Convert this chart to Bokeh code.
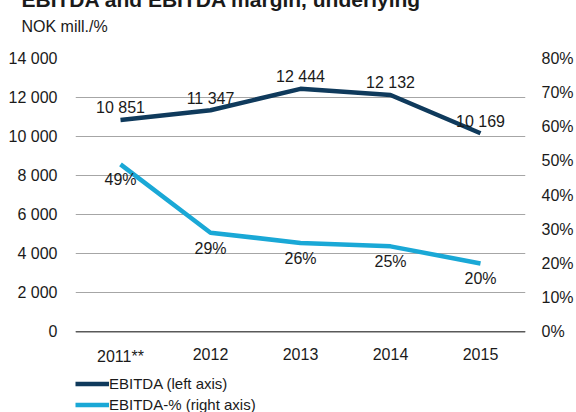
from bokeh.plotting import figure
from bokeh.models import (Range1d, FactorRange, LinearAxis, FixedTicker, Title,
                          Legend, LegendItem, Span)
from bokeh.embed import file_html
from bokeh.resources import INLINE
from bokeh.core.properties import value

# ---- data ----
years = ["2011**", "2012", "2013", "2014", "2015"]
ebitda = [10851, 11347, 12444, 12132, 10169]
margin_pct = [49, 29, 26, 25, 20]
left_ticks = [0, 2000, 4000, 6000, 8000, 10000, 12000, 14000]
left_labels = ["0", "2 000", "4 000", "6 000", "8 000", "10 000", "12 000", "14 000"]
right_ticks = [0, 10, 20, 30, 40, 50, 60, 70, 80]
right_labels = ["0%", "10%", "20%", "30%", "40%", "50%", "60%", "70%", "80%"]
title_text = "EBITDA and EBITDA margin, underlying"
subtitle_text = "NOK mill./%"
series_names = ["EBITDA (left axis)", "EBITDA-% (right axis)"]

ebitda_labels = [f"{v:,}".replace(",", " ") for v in ebitda]
pct_labels = [f"{v}%" for v in margin_pct]

FONT = "Liberation Sans"
TXT = "#1a1a1a"
NAVY = "#0f3a5c"
CYAN = "#1aa8d6"

# ---- layout geometry (pixels) ----
SHIFT = 15            # canvas starts above the window so the title is cut like the source
H = 412 + SHIFT
TOP = 57 + SHIFT      # frame top (value 14 000 / 80 %)
ZERO = 331 + SHIFT    # y position of the zero line
below = H - ZERO      # room under the zero line (year labels + legend)
span = ZERO - TOP
y_lo = -max(left_ticks) * below / span
p_lo = -max(right_ticks) * below / span

p = figure(width=576, height=H,
           x_range=FactorRange(*years, range_padding=0),
           y_range=Range1d(y_lo, max(left_ticks)),
           x_axis_location=None,
           output_backend="svg", toolbar_location=None,
           min_border_left=75, min_border_right=46,
           min_border_top=TOP, min_border_bottom=0,
           margin=(-SHIFT, 0, 0, 0))
p.extra_y_ranges = {"pct": Range1d(p_lo, max(right_ticks))}
p.outline_line_color = None

# titles: stacked outward from the frame (spacer, unit line, main title)
p.add_layout(Title(text=" ", align="left", offset=-54, standoff=3,
                   text_font=FONT, text_font_size="12px"), "above")
p.add_layout(Title(text=subtitle_text, align="left", offset=-54, standoff=10,
                   text_font=FONT, text_font_size="16px",
                   text_font_style="normal", text_color=TXT), "above")
p.add_layout(Title(text=title_text, align="left", offset=-54, standoff=0,
                   text_font=FONT, text_font_size="21px",
                   text_font_style="bold", text_color=TXT), "above")

ya = p.yaxis[0]
ya.ticker = FixedTicker(ticks=left_ticks)
ya.major_label_overrides = dict(zip(left_ticks, left_labels))
ya.axis_line_color = None
ya.major_tick_line_color = None
ya.minor_tick_line_color = None
ya.major_label_standoff = 12
ya.major_label_text_font = FONT
ya.major_label_text_font_size = "16px"
ya.major_label_text_color = TXT

ra = LinearAxis(y_range_name="pct", ticker=FixedTicker(ticks=right_ticks),
                major_label_overrides=dict(zip(right_ticks, right_labels)))
ra.axis_line_color = None
ra.major_tick_line_color = None
ra.minor_tick_line_color = None
ra.major_label_standoff = 10
ra.major_label_text_font = FONT
ra.major_label_text_font_size = "16px"
ra.major_label_text_color = TXT
p.add_layout(ra, "right")

p.xgrid.grid_line_color = None
p.ygrid.ticker = FixedTicker(ticks=left_ticks)
p.ygrid.grid_line_color = "#a6a6a6"
p.ygrid.grid_line_width = 1

# category axis line (zero line) and category labels
p.add_layout(Span(location=0, dimension="width", line_color="#595959",
                  line_width=1.5))
p.text(x=years, y=[0] * len(years), text=years, text_align="center",
       text_baseline="top", y_offset=16, text_font=value(FONT),
       text_font_size="16px", text_color=TXT)

r1 = p.line(years, ebitda, line_color=NAVY, line_width=4.5, line_join="round")
r2 = p.line(years, margin_pct, y_range_name="pct", line_color=CYAN,
            line_width=4.5, line_join="round")

p.text(x=years, y=ebitda, text=ebitda_labels, text_align="center",
       text_baseline="alphabetic", y_offset=-12, text_font=value(FONT),
       text_font_size="16px", text_color=TXT)
p.text(x=years, y=margin_pct, y_range_name="pct", text=pct_labels,
       text_align="center", text_baseline="top", y_offset=7,
       text_font=value(FONT), text_font_size="16px", text_color=TXT)

legend = Legend(items=[LegendItem(label=series_names[0], renderers=[r1]),
                       LegendItem(label=series_names[1], renderers=[r2])],
                location=(0, -3), orientation="vertical",
                padding=0, margin=0, spacing=0,
                glyph_width=34, glyph_height=21, label_height=21,
                label_standoff=0, label_text_font=FONT,
                label_text_font_size="15px", label_text_color=TXT,
                border_line_color=None, background_fill_alpha=0)
p.add_layout(legend)

open("out.html", "w").write(file_html(p, INLINE))
